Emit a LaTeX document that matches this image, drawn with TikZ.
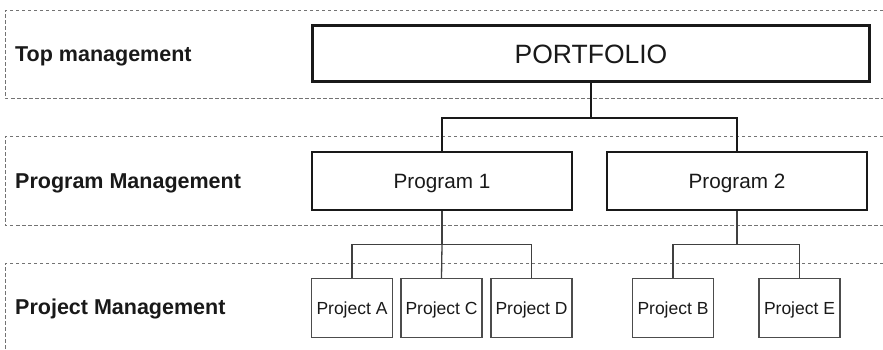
\documentclass[tikz,border=0pt]{standalone}
\usepackage{fontspec}
\setmainfont{Liberation Sans}
\begin{document}
\begin{tikzpicture}[x=1pt,y=-1pt,
  band/.style={draw=black!55, dash pattern=on 3.5pt off 2.5pt, line width=0.8pt},
  lvl/.style={anchor=base west, inner sep=0pt, font=\fontsize{21.5}{25}\selectfont\bfseries, text=black!90},
  portbox/.style={inner sep=0pt, text height=19pt, text depth=0pt, draw=black!90, line width=2.6pt, minimum width=557pt, minimum height=56pt, font=\fontsize{26.5}{30}\selectfont, text=black!90},
  progbox/.style={inner sep=0pt, text height=14.8pt, text depth=0pt, draw=black!90, line width=1.8pt, minimum width=260pt, minimum height=58pt, font=\fontsize{20.7}{24}\selectfont, text=black!90},
  projbox/.style={inner sep=0pt, text height=12.5pt, text depth=0pt, draw=black!70, line width=1.3pt, minimum width=81pt, minimum height=59pt, font=\fontsize{17.5}{20}\selectfont, text=black!90},
  thick conn/.style={draw=black!90, line width=1.8pt},
  thin conn/.style={draw=black!75, line width=1.3pt}]
\useasboundingbox (0,0) rectangle (883,349);
% bands
\draw[band] (883,10) -- (5,10) -- (5,98) -- (883,98);
\draw[band] (883,136) -- (5,136) -- (5,225) -- (883,225);
\draw[band] (883,263) -- (5,263) -- (5,349);
% level labels
\node[lvl] (l1) at (15,61) {Top management};
\node[lvl] (l2) at (15,188) {Program Management};
\node[lvl] (l3) at (15,314.5) {Project Management};
% boxes
\node[portbox] (port) at (591,53.5) {PORTFOLIO};
\node[progbox] (p1) at (442,181) {Program 1};
\node[progbox] (p2) at (737,181) {Program 2};
\node[projbox] (pa) at (352,308) {Project A};
\node[projbox] (pc) at (441.5,308) {Project C};
\node[projbox] (pd) at (531.5,308) {Project D};
\node[projbox] (pb) at (673,308) {Project B};
\node[projbox] (pe) at (799.5,308) {Project E};
% bus coordinates
\coordinate (b0) at (591,118);
\coordinate (b1) at (442,244.5);
\coordinate (b2) at (737,244.5);
% connectors
\draw[thick conn] (port.south) -- (b0);
\draw[thick conn] (p1.north) |- (b0) -| (p2.north);
\draw[thin conn] (p1.south) -- (b1);
\draw[thin conn] (pa.north) |- (b1) -| (pd.north);
\draw[thin conn] (b1) -- (pc.north);
\draw[thin conn] (p2.south) -- (b2);
\draw[thin conn] (pb.north) |- (b2) -| (pe.north);
\end{tikzpicture}
\end{document}
